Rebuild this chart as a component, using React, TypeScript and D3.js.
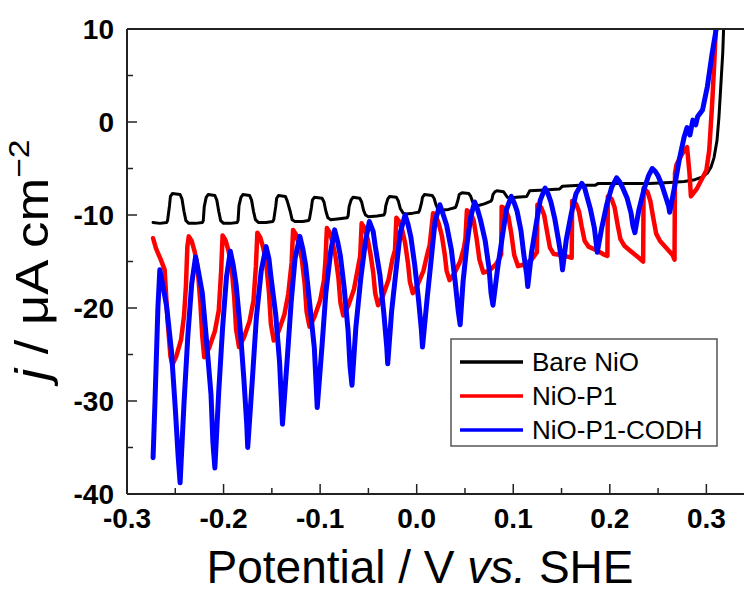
import * as d3 from "d3";

// axis ticks
const xMajor = [-0.3, -0.2, -0.1, 0.0, 0.1, 0.2, 0.3];
const xLabels = ["-0.3", "-0.2", "-0.1", "0.0", "0.1", "0.2", "0.3"];
const xMinor = [-0.25, -0.15, -0.05, 0.05, 0.15, 0.25];
const yMajor = [10, 0, -10, -20, -30, -40];
const yLabels = ["10", "0", "-10", "-20", "-30", "-40"];
const yMinor = [5, -5, -15, -25, -35];

const seriesNames = ["Bare NiO", "NiO-P1", "NiO-P1-CODH"];
const seriesColors = ["#000000", "#ff0000", "#0000ff"];
const seriesWidths = [3, 4.5, 5];

// [potential (V vs SHE), j (uA cm-2)]
const bareNiO: [number, number][] = [
  [-0.273, -10.8], [-0.266, -10.9], [-0.259, -10.8],
  [-0.258, -10.6], [-0.256, -9.0], [-0.255, -8.0], [-0.253, -7.7], [-0.245, -7.8], [-0.243, -8.3], [-0.241, -9.6], [-0.239, -10.6], [-0.236, -10.9], [-0.229, -10.9], [-0.222, -10.8],
  [-0.221, -10.6], [-0.22, -9.1], [-0.218, -8.1], [-0.216, -7.8], [-0.209, -7.9], [-0.207, -8.4], [-0.205, -9.6], [-0.203, -10.6], [-0.2, -10.9], [-0.193, -10.9], [-0.186, -10.8],
  [-0.185, -10.6], [-0.184, -9.0], [-0.182, -8.1], [-0.18, -7.8], [-0.173, -7.9], [-0.171, -8.4], [-0.169, -9.6], [-0.167, -10.5], [-0.164, -10.8], [-0.156, -10.8], [-0.149, -10.7],
  [-0.148, -10.5], [-0.146, -9.1], [-0.145, -8.2], [-0.143, -7.9], [-0.136, -8.0], [-0.134, -8.5], [-0.131, -9.6], [-0.129, -10.5], [-0.126, -10.7], [-0.118, -10.7], [-0.112, -10.6],
  [-0.111, -10.4], [-0.109, -9.2], [-0.108, -8.4], [-0.106, -8.1], [-0.098, -8.2], [-0.096, -8.6], [-0.094, -9.6], [-0.092, -10.3], [-0.089, -10.5], [-0.08, -10.4], [-0.072, -10.3],
  [-0.071, -10.1], [-0.07, -9.1], [-0.068, -8.4], [-0.066, -8.1], [-0.059, -8.2], [-0.057, -8.6], [-0.055, -9.5], [-0.053, -10.0], [-0.05, -10.2], [-0.041, -10.1], [-0.034, -10.0],
  [-0.033, -9.8], [-0.032, -9.0], [-0.03, -8.3], [-0.028, -8.0], [-0.021, -8.1], [-0.019, -8.5], [-0.017, -9.3], [-0.014, -9.8], [-0.011, -9.9], [-0.004, -9.8], [0.002, -9.7],
  [0.003, -9.5], [0.005, -8.7], [0.006, -8.1], [0.008, -7.8], [0.016, -7.9], [0.018, -8.2], [0.02, -8.9], [0.022, -9.4], [0.025, -9.5], [0.033, -9.4], [0.04, -9.2],
  [0.041, -9.0], [0.043, -8.3], [0.044, -7.8], [0.047, -7.6], [0.054, -7.7], [0.056, -8.0], [0.058, -8.6], [0.06, -8.9], [0.063, -9.0], [0.07, -8.8], [0.077, -8.5],
  [0.078, -8.3], [0.079, -7.8], [0.081, -7.5], [0.083, -7.4], [0.09, -7.5], [0.092, -7.8], [0.094, -8.1], [0.097, -8.2], [0.103, -8.1], [0.114, -8.0],
  [0.117, -7.4], [0.1325, -7.3], [0.148, -7.2], [0.151, -6.9], [0.169, -6.8], [0.185, -6.8], [0.188, -6.6], [0.223, -6.6], [0.241, -6.6], [0.262, -6.5],
  [0.277, -6.4], [0.288, -6.2], [0.296, -5.9], [0.301, -5.5], [0.305, -4.8], [0.308, -3.8], [0.311, -2.0], [0.313, 0.5], [0.315, 4.0], [0.317, 7.5], [0.318, 10.5],
];

const nioP1: [number, number][] = [
  [-0.273, -12.5], [-0.27, -13.6], [-0.265, -14.8], [-0.261, -15.9], [-0.258, -21.3], [-0.255, -25.2], [-0.253, -26.1], [-0.249, -25.2], [-0.244, -23.4], [-0.241, -20.9], [-0.239, -17.7], [-0.2375, -13.4],
  [-0.236, -12.3], [-0.233, -12.8], [-0.23, -13.9], [-0.227, -15.5], [-0.224, -19.5], [-0.222, -23.1], [-0.22, -25.3], [-0.215, -24.3], [-0.209, -22.5], [-0.205, -20.3], [-0.2025, -16.0],
  [-0.201, -12.2], [-0.198, -12.7], [-0.195, -13.8], [-0.192, -15.3], [-0.189, -18.8], [-0.187, -22.3], [-0.184, -24.2], [-0.179, -23.2], [-0.173, -21.4], [-0.169, -19.2], [-0.1665, -15.5],
  [-0.165, -11.9], [-0.162, -12.4], [-0.159, -13.5], [-0.156, -15.0], [-0.153, -18.3], [-0.151, -21.7], [-0.148, -23.5], [-0.143, -22.5], [-0.137, -20.7], [-0.133, -18.5], [-0.1295, -15.1],
  [-0.128, -11.6], [-0.125, -12.1], [-0.122, -13.2], [-0.119, -14.7], [-0.116, -17.4], [-0.114, -20.4], [-0.111, -22.0], [-0.106, -21.0], [-0.1, -19.2], [-0.096, -17.0], [-0.0945, -14.9],
  [-0.093, -11.4], [-0.09, -11.9], [-0.087, -13.0], [-0.084, -14.5], [-0.081, -16.8], [-0.079, -19.4], [-0.076, -20.8], [-0.071, -19.8], [-0.065, -18.0], [-0.061, -15.8], [-0.0585, -14.4],
  [-0.057, -10.9], [-0.054, -11.4], [-0.051, -12.5], [-0.048, -14.1], [-0.045, -16.2], [-0.043, -18.4], [-0.04, -19.7], [-0.035, -18.7], [-0.029, -16.9], [-0.025, -14.7], [-0.0225, -13.8],
  [-0.021, -10.3], [-0.018, -10.7], [-0.015, -11.6], [-0.012, -13.0], [-0.009, -15.2], [-0.007, -17.2], [-0.004, -18.4], [0.001, -17.5], [0.007, -16.0], [0.011, -14.2], [0.0135, -13.2],
  [0.017, -9.8], [0.02, -10.1], [0.023, -11.0], [0.026, -12.2], [0.029, -14.2], [0.031, -16.0], [0.034, -17.0], [0.039, -16.3], [0.045, -15.0], [0.049, -13.5], [0.0505, -12.5],
  [0.052, -9.5], [0.056, -9.8], [0.059, -10.6], [0.062, -12.5], [0.065, -14.8], [0.069, -16.2], [0.075, -16.0], [0.082, -15.3], [0.086, -14.6], [0.0875, -14.2],
  [0.088, -9.1], [0.092, -9.4], [0.095, -10.2], [0.098, -12.0], [0.101, -14.3], [0.105, -15.5], [0.112, -15.3], [0.119, -14.8], [0.1245, -14.0],
  [0.125, -8.9], [0.129, -9.2], [0.132, -10.0], [0.135, -11.8], [0.138, -13.5], [0.142, -14.2], [0.15, -14.3], [0.157, -14.5], [0.1605, -14.6],
  [0.161, -8.5], [0.165, -8.8], [0.168, -9.6], [0.171, -11.3], [0.174, -12.8], [0.178, -13.4], [0.186, -13.8], [0.193, -14.2], [0.1975, -14.4],
  [0.198, -8.0], [0.202, -8.3], [0.205, -9.2], [0.208, -11.0], [0.211, -12.6], [0.215, -13.3], [0.223, -14.0], [0.23, -14.6], [0.2345, -15.0],
  [0.235, -7.1], [0.239, -7.5], [0.242, -8.5], [0.245, -10.3], [0.248, -12.0], [0.252, -12.8], [0.259, -13.6], [0.265, -14.3], [0.267, -14.8],
  [0.2675, -5.5], [0.269, -4.6], [0.275, -3.4], [0.28, -2.7], [0.2825, -5.5], [0.284, -8.0], [0.29, -7.2], [0.296, -6.0], [0.3, -5.2], [0.303, -3.0], [0.306, 2.0], [0.308, 6.0], [0.31, 10.5],
];

const nioP1Codh: [number, number][] = [
  [-0.273, -36.1], [-0.271, -30.0], [-0.268, -20.0], [-0.266, -15.9],
  [-0.263, -17.5], [-0.259, -19.8], [-0.254, -24.6], [-0.25, -30.8], [-0.247, -36.0], [-0.245, -38.8],
  [-0.241, -30.3], [-0.237, -23.0], [-0.233, -17.4], [-0.229, -14.5],
  [-0.226, -16.1], [-0.222, -18.4], [-0.218, -23.1], [-0.213, -29.3], [-0.211, -34.5], [-0.209, -37.2],
  [-0.205, -29.0], [-0.201, -22.1], [-0.197, -16.7], [-0.193, -13.9],
  [-0.19, -15.4], [-0.187, -17.5], [-0.183, -21.9], [-0.179, -27.6], [-0.176, -32.5], [-0.175, -35.0],
  [-0.17, -27.4], [-0.166, -21.0], [-0.161, -16.0], [-0.156, -13.4],
  [-0.153, -14.7], [-0.151, -16.6], [-0.146, -20.7], [-0.142, -25.8], [-0.14, -30.2], [-0.139, -32.5],
  [-0.134, -25.4], [-0.13, -19.4], [-0.126, -14.7], [-0.121, -12.3],
  [-0.118, -13.6], [-0.115, -15.4], [-0.111, -19.3], [-0.106, -24.3], [-0.104, -28.5], [-0.103, -30.7],
  [-0.098, -24.0], [-0.094, -18.3], [-0.089, -13.9], [-0.085, -11.6],
  [-0.082, -12.8], [-0.079, -14.4], [-0.075, -17.9], [-0.071, -22.5], [-0.069, -26.3], [-0.067, -28.3],
  [-0.063, -22.1], [-0.058, -16.9], [-0.053, -12.8], [-0.049, -10.7],
  [-0.045, -11.8], [-0.043, -13.3], [-0.038, -16.5], [-0.034, -20.6], [-0.031, -24.2], [-0.03, -26.0],
  [-0.026, -20.4], [-0.021, -15.6], [-0.017, -11.9], [-0.012, -10.0],
  [-0.009, -11.0], [-0.006, -12.4], [-0.002, -15.4], [0.002, -19.2], [0.005, -22.5], [0.006, -24.2],
  [0.011, -18.8], [0.015, -14.8], [0.019, -10.7], [0.024, -8.9],
  [0.027, -9.8], [0.031, -11.1], [0.036, -13.8], [0.04, -17.3], [0.043, -20.3], [0.045, -21.8],
  [0.048, -17.2], [0.052, -13.2], [0.056, -10.2], [0.06, -8.6],
  [0.063, -9.4], [0.066, -10.5], [0.071, -12.8], [0.075, -15.8], [0.077, -18.4], [0.079, -19.7],
  [0.084, -15.6], [0.089, -12.1], [0.093, -9.4], [0.098, -8.0],
  [0.101, -8.7], [0.104, -9.6], [0.108, -11.7], [0.111, -14.3], [0.114, -16.5], [0.115, -17.7],
  [0.119, -14.0], [0.124, -10.8], [0.128, -8.4], [0.133, -7.1],
  [0.136, -7.7], [0.139, -8.6], [0.143, -10.4], [0.147, -12.8], [0.15, -14.8], [0.151, -15.9],
  [0.155, -12.6], [0.16, -9.9], [0.165, -7.7], [0.171, -6.6],
  [0.174, -7.1], [0.176, -7.9], [0.18, -9.4], [0.184, -11.4], [0.186, -13.1], [0.187, -14.0],
  [0.192, -11.2], [0.197, -8.8], [0.202, -7.0], [0.207, -6.0],
  [0.21, -6.4], [0.213, -7.0], [0.218, -8.2], [0.222, -9.8], [0.224, -11.2], [0.226, -11.9],
  [0.23, -9.5], [0.235, -7.4], [0.24, -5.8], [0.244, -5.0],
  [0.247, -5.3], [0.25, -5.8], [0.254, -6.8], [0.258, -8.1], [0.261, -9.1], [0.262, -9.7],
  [0.267, -7.0], [0.272, -4.0], [0.277, -1.6], [0.28, -0.6], [0.283, -1.4], [0.286, 0.2], [0.289, -0.3], [0.291, 0.6], [0.296, 1.3], [0.301, 3.8], [0.306, 7.4], [0.311, 10.5],
];

const allSeries = [bareNiO, nioP1, nioP1Codh];

const W = 744;
const H = 595;
const margin = { top: 29, right: 0, bottom: 101, left: 127 };
const FONT = "'Liberation Sans', Arial, Helvetica, sans-serif";

export default function App() {
  const x = d3.scaleLinear().domain([-0.3, 0.34]).range([margin.left, 745]);
  const y = d3.scaleLinear().domain([-40, 10]).range([H - margin.bottom, margin.top]);
  const line = d3
    .line<[number, number]>()
    .x((d) => x(d[0]))
    .y((d) => y(d[1]));

  const x0 = margin.left;
  const yBot = H - margin.bottom;

  return (
    <svg
      width={W}
      height={H}
      style={{ position: "absolute", left: 0, top: 0, background: "#fff" }}
      fontFamily={FONT}
    >
      <defs>
        <clipPath id="plot">
          <rect x={x0} y={margin.top} width={W - x0} height={yBot - margin.top} />
        </clipPath>
      </defs>

      {/* curves, drawn in legend order so blue ends on top */}
      <g clipPath="url(#plot)" fill="none" strokeLinejoin="round" strokeLinecap="round">
        {allSeries.map((s, i) => (
          <path key={i} d={line(s) ?? ""} stroke={seriesColors[i]} strokeWidth={seriesWidths[i]} />
        ))}
      </g>

      {/* frame */}
      <g stroke="#222" strokeWidth={2} fill="none">
        <line x1={x0} x2={W} y1={yBot} y2={yBot} />
        <line x1={x0} x2={x0} y1={margin.top} y2={yBot} />
        <line x1={x0} x2={W} y1={margin.top} y2={margin.top} />
      </g>

      {/* ticks point inward */}
      <g stroke="#222" strokeWidth={1.5}>
        {xMajor.map((v) => (
          <line key={"xM" + v} x1={x(v)} x2={x(v)} y1={yBot} y2={yBot - 10} />
        ))}
        {xMinor.map((v) => (
          <line key={"xm" + v} x1={x(v)} x2={x(v)} y1={yBot} y2={yBot - 6} />
        ))}
        {yMajor.map((v) => (
          <line key={"yM" + v} x1={x0} x2={x0 + 10} y1={y(v)} y2={y(v)} />
        ))}
        {yMinor.map((v) => (
          <line key={"ym" + v} x1={x0} x2={x0 + 6} y1={y(v)} y2={y(v)} />
        ))}
      </g>

      <g fontWeight="bold" fontSize={28} fill="#000">
        {xMajor.map((v, i) => (
          <text key={"xl" + v} x={x(v)} y={528} textAnchor="middle">
            {xLabels[i]}
          </text>
        ))}
        {yMajor.map((v, i) => (
          <text key={"yl" + v} x={114} y={y(v) + 10} textAnchor="end">
            {yLabels[i]}
          </text>
        ))}
      </g>

      {/* axis titles */}
      <text x={420} y={583} textAnchor="middle" fontSize={46}>
        Potential / V <tspan fontStyle="italic">vs.</tspan> SHE
      </text>
      <text transform="translate(48,260) rotate(-90) scale(1.12,1)" textAnchor="middle" fontSize={47}>
        <tspan fontStyle="italic">j</tspan> / μA cm
        <tspan fontSize={30} dy={-19}>−2</tspan>
      </text>

      {/* legend */}
      <g>
        <rect x={451} y={339} width={266} height={107} fill="#fff" stroke="#555" strokeWidth={1.5} />
        {seriesNames.map((n, i) => (
          <g key={n} transform={`translate(0,${362 + i * 34})`}>
            <line x1={460} x2={523} y1={0} y2={0} stroke={seriesColors[i]} strokeWidth={3.5} />
            <text x={532} y={9} fontSize={26}>
              {n}
            </text>
          </g>
        ))}
      </g>
    </svg>
  );
}
